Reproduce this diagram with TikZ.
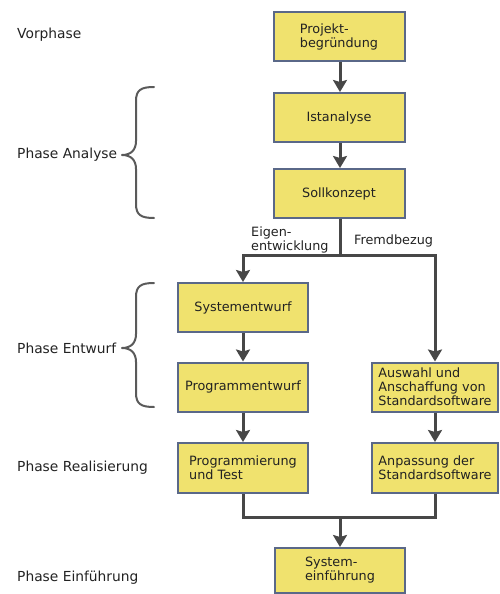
\documentclass[tikz,border=0pt]{standalone}
\usepackage{fontspec}
\setmainfont{DejaVu Sans}
\usetikzlibrary{arrows.meta}
\definecolor{boxfill}{HTML}{F0E26E}
\definecolor{boxline}{HTML}{5A6888}
\definecolor{flow}{HTML}{474747}
\definecolor{bracecol}{HTML}{5A5A5A}
\definecolor{txt}{HTML}{222222}
\tikzset{
  stepbox/.style={draw=boxline, fill=boxfill, line width=2pt, minimum width=131pt,
    minimum height=49pt, inner sep=2pt, align=left, text=txt,
    font=\fontsize{12.8}{14}\selectfont},
  flowline/.style={draw=flow, line width=3pt},
  flowarrow/.style={flowline, -{Stealth[length=12pt,width=14pt,inset=2pt]}},
  phaselabel/.style={anchor=west, inner sep=0pt, text=txt, font=\fontsize{13.8}{15}\selectfont},
  branchlabel/.style={anchor=west, inner sep=0pt, text=txt, align=left,
    font=\fontsize{12.8}{14}\selectfont},
  phasebrace/.style={draw=bracecol, line width=2pt, line cap=round, line join=round}
}
\begin{document}
\begin{tikzpicture}[x=1pt, y=-1pt]
  \useasboundingbox (0,0) rectangle (500,594);

  % phase labels
  \node[phaselabel] (vor)  at (17,35)  {Vorphase};
  \node[phaselabel] (ana)  at (17,155) {Phase Analyse};
  \node[phaselabel] (ent)  at (17,348) {Phase Entwurf};
  \node[phaselabel] (real) at (17,468) {Phase Realisierung};
  \node[phaselabel] (ein)  at (17,578) {Phase Einführung};

  % braces grouping the phases
  \draw[phasebrace] (154,87) .. controls (141,87) and (136,90) .. (136,101)
    -- (136,141) .. controls (136,150) and (131,155) .. (122,155)
    .. controls (131,155) and (136,160) .. (136,169)
    -- (136,204) .. controls (136,215) and (141,218) .. (154,218);
  \draw[phasebrace] (154,283) .. controls (141,283) and (136,286) .. (136,297)
    -- (136,334) .. controls (136,343) and (131,348) .. (122,348)
    .. controls (131,348) and (136,353) .. (136,362)
    -- (136,393) .. controls (136,404) and (141,407) .. (154,407);

  % process steps
  \node[stepbox] (proj) at (339,37)    {Projekt-\\begründung};
  \node[stepbox] (ist)  at (339,117.5) {Istanalyse};
  \node[stepbox] (soll) at (339,193.5) {Sollkonzept};
  \node[stepbox, minimum width=130pt] (sysent) at (243,307.5) {Systementwurf};
  \node[stepbox, minimum width=130pt] (prgent) at (243,387)   {Programmentwurf};
  \node[stepbox, minimum width=126pt] (ausw)   at (435,387)   {Auswahl und\\Anschaffung von\\Standardsoftware};
  \node[stepbox, minimum width=130pt, minimum height=50pt] (prog) at (243,468) {Programmierung\\und Test};
  \node[stepbox, minimum width=126pt, minimum height=50pt] (anp)  at (435,468) {Anpassung der\\Standardsoftware};
  \node[stepbox, minimum width=130pt, minimum height=45pt] (sysein) at (340,570.5) {System-\\einführung};

  % branch and merge points
  \coordinate (split) at (340,255);
  \coordinate (merge) at (340,517);

  % flow
  \draw[flowarrow] (proj.south -| 340,0) -- (ist.north -| 340,0);
  \draw[flowarrow] (ist.south -| 340,0) -- (soll.north -| 340,0);
  \draw[flowline] (soll.south -| split) -- (split);
  \draw[flowarrow] (split) -| (sysent.north);
  \draw[flowarrow] (split) -| (ausw.north);
  \draw[flowarrow] (sysent) -- (prgent);
  \draw[flowarrow] (prgent) -- (prog);
  \draw[flowarrow] (ausw) -- (anp);
  \draw[flowline] (prog.south) |- (merge);
  \draw[flowline] (anp.south) |- (merge);
  \draw[flowarrow] (merge) -- (sysein.north);

  % branch labels
  \node[branchlabel] (eigen) at (251,240) {Eigen-\\entwicklung};
  \node[branchlabel] (fremd) at (354,241) {Fremdbezug};
\end{tikzpicture}
\end{document}
